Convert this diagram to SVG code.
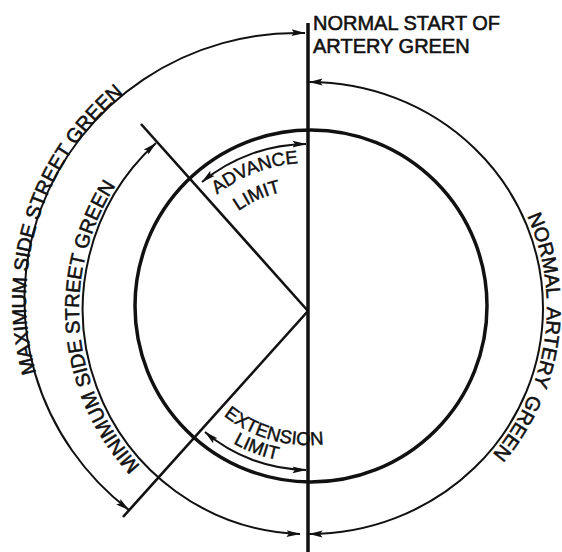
<svg xmlns="http://www.w3.org/2000/svg" xmlns:xlink="http://www.w3.org/1999/xlink" width="562" height="552" viewBox="0 0 562 552">
  <style>
    .bg { fill: #ffffff; }
    .ln { fill: none; stroke: #111; stroke-linecap: butt; }
    .thick { stroke-width: 3.5; }
    .med { stroke-width: 2.6; }
    .dim { fill: none; stroke: #111; stroke-width: 2; marker-start: url(#arr); marker-end: url(#arr); }
    .lbl { font-family: "Liberation Sans", Arial, sans-serif; font-size: 20px; fill: #111; stroke: #111; stroke-width: 0.55; }
    .sm { font-size: 18.5px; stroke-width: 0.45; }
  </style>
  <defs>
    <marker id="arr" viewBox="0 0 14 8" refX="13.5" refY="4" markerWidth="14" markerHeight="8" markerUnits="userSpaceOnUse" orient="auto-start-reverse">
      <path d="M0,0.6 L14,4 L0,7.4 L2.5,4 z" fill="#111"/>
    </marker>
    <path id="tpMax" d="M 35.4 370.1 A 277 271 0 0 1 121.3 95.5"/>
    <path id="tpMin" d="M 137.8 463.2 A 229 229 0 0 1 113.8 188.6"/>
    <path id="tpArt" d="M 526.4 214.5 A 238 230 0 0 1 491.3 455.8"/>
    <path id="tpAdv" d="M 215.5 195.8 A 147 147 0 0 1 300.3 163.2"/>
    <path id="tpAdvL" d="M 235.2 213.4 A 121 121 0 0 1 284.9 191.2"/>
    <path id="tpExt" d="M 223 414.9 A 135 135 0 0 0 324.5 444"/>
    <path id="tpExtL" d="M 226.9 439.7 A 153 153 0 0 0 284.1 461.1"/>
  </defs>
  <rect class="bg" x="0" y="0" width="562" height="552"/>

  <g id="dial">
    <circle class="ln thick" cx="311" cy="306" r="176"/>
  </g>

  <g id="radials">
    <line class="ln thick" x1="308" y1="23" x2="308" y2="552"/>
    <line class="ln med" x1="141" y1="124" x2="308" y2="311"/>
    <line class="ln med" x1="308" y1="311" x2="123" y2="517"/>
  </g>

  <g id="connectors">
    <path id="arcMax" class="dim" d="M 305 33 A 273 267 0 0 0 129 510"/>
    <path id="arcMin" class="dim" d="M 156 143 A 225 225 0 0 0 300 534"/>
    <path id="arcArt" class="dim" d="M 309 82 A 234 226 0 0 1 309 534"/>
    <path id="arcAdv" class="dim" d="M 202 182 A 166 166 0 0 1 306 144"/>
    <path id="arcExt" class="dim" d="M 205 432 A 160 160 0 0 0 306 470"/>
  </g>

  <g id="label-start">
    <text class="lbl" x="313" y="30">NORMAL START OF</text>
    <text class="lbl" x="313" y="53">ARTERY GREEN</text>
  </g>
  <g id="label-max">
    <text class="lbl"><textPath xlink:href="#tpMax" href="#tpMax" startOffset="50%" text-anchor="middle">MAXIMUM SIDE STREET GREEN</textPath></text>
  </g>
  <g id="label-min">
    <text class="lbl"><textPath xlink:href="#tpMin" href="#tpMin" startOffset="50%" text-anchor="middle">MINIMUM SIDE STREET GREEN</textPath></text>
  </g>
  <g id="label-artery">
    <text class="lbl" word-spacing="4"><textPath xlink:href="#tpArt" href="#tpArt" startOffset="50%" text-anchor="middle">NORMAL ARTERY GREEN</textPath></text>
  </g>
  <g id="label-advance">
    <text class="lbl sm"><textPath xlink:href="#tpAdv" href="#tpAdv" startOffset="50%" text-anchor="middle">ADVANCE</textPath></text>
    <text class="lbl sm"><textPath xlink:href="#tpAdvL" href="#tpAdvL" startOffset="50%" text-anchor="middle">LIMIT</textPath></text>
  </g>
  <g id="label-extension">
    <text class="lbl sm"><textPath xlink:href="#tpExt" href="#tpExt" startOffset="50%" text-anchor="middle">EXTENSION</textPath></text>
    <text class="lbl sm"><textPath xlink:href="#tpExtL" href="#tpExtL" startOffset="50%" text-anchor="middle">LIMIT</textPath></text>
  </g>
</svg>
